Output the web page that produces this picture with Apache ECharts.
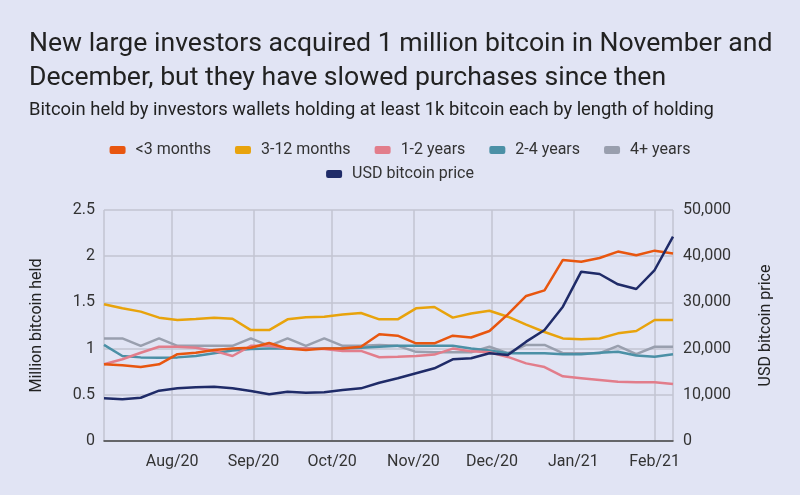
<!DOCTYPE html>
<html><head><meta charset="utf-8">
<script src="https://cdn.jsdelivr.net/npm/echarts@6/dist/echarts.min.js"></script>
<style>html,body{margin:0;padding:0;background:#e1e4f4}#c{width:800px;height:495px}</style>
</head><body><div id="c"></div>
<script>
const dates = ['2020-07-06','2020-07-13','2020-07-20','2020-07-27','2020-08-03','2020-08-10','2020-08-17','2020-08-24','2020-08-31','2020-09-07','2020-09-14','2020-09-21','2020-09-28','2020-10-05','2020-10-12','2020-10-19','2020-10-26','2020-11-02','2020-11-09','2020-11-16','2020-11-23','2020-11-30','2020-12-07','2020-12-14','2020-12-21','2020-12-28','2021-01-04','2021-01-11','2021-01-18','2021-01-25','2021-02-01','2021-02-08'];
const under3m = [0.83,0.82,0.80,0.83,0.94,0.955,0.985,1.0,1.01,1.06,1.0,0.985,1.0,1.0,1.02,1.155,1.14,1.057,1.057,1.14,1.12,1.19,1.37,1.57,1.63,1.96,1.94,1.98,2.05,2.01,2.06,2.03];
const m3to12 = [1.48,1.436,1.40,1.335,1.31,1.32,1.335,1.323,1.20,1.20,1.317,1.34,1.345,1.37,1.385,1.317,1.317,1.436,1.45,1.335,1.38,1.41,1.345,1.26,1.18,1.11,1.10,1.11,1.165,1.19,1.31,1.31];
const y1to2 = [0.83,0.885,0.955,1.02,1.02,1.01,0.975,0.92,1.03,1.03,1.0,1.0,0.995,0.975,0.975,0.906,0.912,0.92,0.935,1.0,0.97,0.96,0.91,0.84,0.80,0.70,0.68,0.66,0.64,0.635,0.637,0.617];
const y2to4 = [1.04,0.92,0.905,0.90,0.905,0.92,0.95,0.98,0.995,1.0,1.0,1.0,1.0,1.0,1.01,1.02,1.03,1.03,1.03,1.03,1.0,0.98,0.95,0.95,0.95,0.94,0.94,0.955,0.965,0.925,0.912,0.938];
const y4plus = [1.11,1.11,1.03,1.11,1.03,1.03,1.03,1.03,1.11,1.03,1.11,1.03,1.11,1.03,1.03,1.04,1.03,0.965,0.96,0.96,0.96,1.02,0.95,1.04,1.04,0.95,0.95,0.95,1.03,0.94,1.02,1.02];
const price = [9240,9025,9370,10890,11400,11620,11750,11400,10820,10100,10670,10460,10560,11040,11400,12620,13570,14650,15730,17680,17900,18980,18610,21500,24030,29070,36650,36150,33920,32900,37010,44220];
const seriesNames = ['<3 months','3-12 months','1-2 years','2-4 years','4+ years','USD bitcoin price'];
const colors = ['#e8560f','#e8a30c','#e27d8b','#4b90a6','#999fae','#1f2b68'];
const monthNames = ['Jan','Feb','Mar','Apr','May','Jun','Jul','Aug','Sep','Oct','Nov','Dec'];

const FONT = 'Roboto';
const pair = arr => dates.map((d,i)=>[d, arr[i]]);
const mk = (i, arr, yIdx) => ({
  name: seriesNames[i], type:'line', data: pair(arr), yAxisIndex: yIdx,
  showSymbol:false, symbol:'none', lineStyle:{width:2.5, color:colors[i]}, itemStyle:{color:colors[i]},
  emphasis:{disabled:true}, animation:false
});

const chart = echarts.init(document.getElementById('c'), null, {renderer:'canvas'});
chart.setOption({
  backgroundColor:'#e1e4f4',
  textStyle:{fontFamily:FONT},
  title:[
    {text:'New large investors acquired 1 million bitcoin in November and\nDecember, but they have slowed purchases since then', left:24, top:22,
     textStyle:{fontFamily:FONT, fontSize:26.6, fontWeight:'normal', color:'#222', lineHeight:34}},
    {text:'Bitcoin held by investors wallets holding at least 1k bitcoin each by length of holding', left:24, top:96,
     textStyle:{fontFamily:FONT, fontSize:18.4, fontWeight:'normal', color:'#222'}}
  ],
  legend:[
    {data:seriesNames.slice(0,5), top:137, left:'center', itemWidth:16, itemHeight:8, icon:'roundRect', itemGap:24,
     textStyle:{fontFamily:FONT, fontSize:16, color:'#333', padding:[0,0,0,5]}},
    {data:[seriesNames[5]], top:161, left:'center', itemWidth:16, itemHeight:8, icon:'roundRect',
     textStyle:{fontFamily:FONT, fontSize:16, color:'#333', padding:[0,0,0,5]}}
  ],
  grid:{left:104, right:127, top:210, bottom:54, containLabel:false},
  xAxis:{type:'time', min:dates[0], max:dates[dates.length-1], minInterval:28*86400000, maxInterval:31*86400000,
    axisLine:{lineStyle:{color:'#444', width:1.5}}, axisTick:{show:false},
    splitLine:{show:true, lineStyle:{color:'#c2c4d2', width:1.5}},
    axisLabel:{fontFamily:FONT, fontSize:16, color:'#333', margin:13, hideOverlap:false,
      formatter: v => { const d=new Date(v); return monthNames[d.getMonth()]+'/'+String(d.getFullYear()).slice(2); }}
  },
  yAxis:[
    {type:'value', min:0, max:2.5, interval:0.5, name:'Million bitcoin held', nameLocation:'middle', nameGap:59, nameRotate:90,
     nameTextStyle:{fontFamily:FONT, fontSize:16, color:'#222'},
     axisLine:{show:false}, axisTick:{show:false},
     splitLine:{lineStyle:{color:'#c2c4d2', width:1.5}},
     axisLabel:{fontFamily:FONT, fontSize:16, color:'#333', margin:9}},
    {type:'value', min:0, max:50000, interval:10000, position:'right', name:'USD bitcoin price', nameLocation:'middle', nameGap:85, nameRotate:90,
     nameTextStyle:{fontFamily:FONT, fontSize:16, color:'#222'},
     axisLine:{show:false}, axisTick:{show:false}, splitLine:{show:false},
     axisLabel:{fontFamily:FONT, fontSize:16, color:'#333', margin:10}}
  ],
  series:[
    mk(4, y4plus, 0), mk(3, y2to4, 0), mk(2, y1to2, 0), mk(1, m3to12, 0), mk(0, under3m, 0), mk(5, price, 1)
  ]
});
</script></body></html>
